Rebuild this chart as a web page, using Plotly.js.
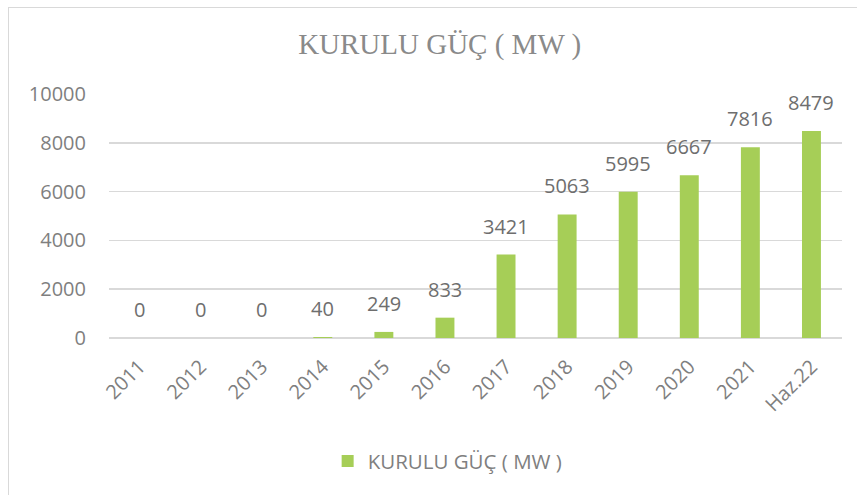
<!DOCTYPE html>
<html>
<head>
<meta charset="utf-8">
<script src="https://cdn.plot.ly/plotly-3.0.1.min.js"></script>
<style>
  html, body { margin: 0; padding: 0; background: #fff; }
  #wrap { position: relative; width: 857px; height: 495px; overflow: hidden; }
  #chart { width: 857px; height: 495px; }
  #frame { position: absolute; left: 8px; top: 7px; width: 900px; height: 600px;
           border-left: 1.5px solid #d9d9d9; border-top: 1.5px solid #d9d9d9; pointer-events: none; }
</style>
</head>
<body>
<div id="wrap"><div id="chart"></div><div id="frame"></div></div>
<script>
const categories = ["2011","2012","2013","2014","2015","2016","2017","2018","2019","2020","2021","Haz.22"];
const values = [0, 0, 0, 40, 249, 833, 3421, 5063, 5995, 6667, 7816, 8479];
const seriesName = "KURULU GÜÇ ( MW )";
const chartTitle = "KURULU GÜÇ ( MW )";
const yTicks = [0, 2000, 4000, 6000, 8000, 10000];

const green = "#A6CE57";
const gray = "#7f7f7f";
const sans = "'Open Sans', 'Noto Sans', sans-serif";

const trace = {
  type: "bar",
  x: categories,
  y: values,
  name: seriesName,
  marker: { color: green },
  hoverinfo: "x+y"
};

const annotations = categories.map((c, i) => ({
  x: i, y: values[i], xref: "x", yref: "y",
  text: String(values[i]), showarrow: false,
  yanchor: "bottom", yshift: 13,
  font: { family: sans, size: 20, color: "#6e6e6e" }
}));

const layout = {
  width: 857, height: 495,
  margin: { l: 109, r: 15, t: 94, b: 157 },
  paper_bgcolor: "rgba(0,0,0,0)",
  plot_bgcolor: "#fff",
  title: {
    text: chartTitle,
    font: { family: "'Liberation Serif', 'DejaVu Serif', serif", size: 29, color: "#8a8a8a" },
    x: 0.513, xanchor: "center",
    yref: "container", y: 1 - 44 / 495, yanchor: "middle"
  },
  bargap: 0.69,
  showlegend: true,
  legend: {
    orientation: "h", x: 0.462, xanchor: "center",
    y: -0.505, yanchor: "middle",
    font: { family: sans, size: 20.5, color: gray },
    itemwidth: 30
  },
  xaxis: {
    type: "category",
    categoryorder: "array",
    categoryarray: categories,
    range: [-0.5, categories.length - 0.5],
    tickangle: -45,
    tickfont: { family: sans, size: 20, color: gray },
    showgrid: false,
    showline: false,
    zeroline: false,
    ticks: "",
    ticklabelstandoff: 12,
    fixedrange: true
  },
  yaxis: {
    range: [0, 10000],
    tickvals: yTicks,
    ticktext: yTicks.map(String),
    tickfont: { family: sans, size: 20, color: gray },
    showgrid: true,
    gridcolor: "#d9d9d9",
    gridwidth: 1.5,
    zeroline: true,
    zerolinecolor: "#d9d9d9",
    zerolinewidth: 1.5,
    showline: false,
    ticks: "",
    ticklabelstandoff: 22,
    fixedrange: true
  },
  annotations: annotations
};

Plotly.newPlot("chart", [trace], layout, { displayModeBar: false, staticPlot: true });
</script>
</body>
</html>
